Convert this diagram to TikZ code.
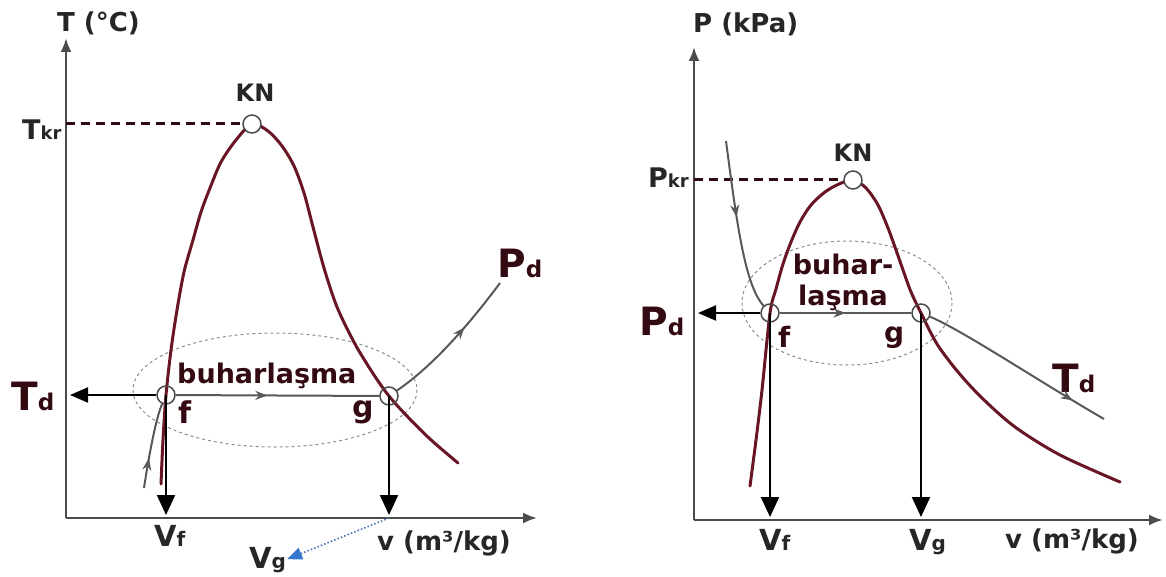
\documentclass[tikz,border=0pt]{standalone}
\usepackage{fontspec}
\setmainfont{DejaVu Sans}
\usetikzlibrary{arrows.meta,decorations.markings}

\newcommand{\fsz}[1]{\fontsize{#1}{#1}\selectfont}
\definecolor{domered}{RGB}{105,22,36}
\definecolor{inkred}{RGB}{52,10,18}
\definecolor{procgray}{RGB}{88,88,88}
\definecolor{axgray}{RGB}{75,75,75}
\definecolor{vgblue}{RGB}{55,118,205}

\begin{document}
\begin{tikzpicture}[
  x=1pt, y=-1pt,
  axis/.style={draw=axgray, line width=2.6pt, -{Latex[length=14pt,width=11pt]}},
  dome/.style={draw=domered, line width=3pt, line join=round, line cap=round},
  crit/.style={draw=black!55!domered, line width=3pt, dash pattern=on 9pt off 6pt},
  knpt/.style={circle, draw=axgray, fill=white, line width=1.5pt, minimum size=18pt, inner sep=0pt},
  ring/.style={circle, draw=axgray, line width=1.5pt, minimum size=18pt, inner sep=0pt},
  proc/.style={draw=procgray, line width=2pt},
  midarr/.style={postaction={decorate}, decoration={markings,
      mark=at position #1 with {\arrow{Stealth[length=12pt,width=9pt]}}}},
  drop/.style={draw=black, line width=2.2pt, shorten >=3pt, -{Triangle[length=20pt,width=18pt]}},
  side/.style={draw=black, line width=2pt, shorten >=4pt, -{Triangle[length=18pt,width=15pt]}},
  zone/.style={draw=black!45, dashed, line width=1pt},
  vgline/.style={draw=vgblue!70!gray, dotted, line width=1.6pt, shorten >=1pt,
      -{Triangle[length=15pt,width=12pt,fill=vgblue,color=vgblue]}},
  axlbl/.style={font=\bfseries\fsz{26}, text=black!85, inner sep=0pt, anchor=base west},
  critlbl/.style={font=\bfseries\fsz{27}, text=black!85, inner sep=0pt, anchor=base west},
  knlbl/.style={font=\bfseries\fsz{24}, text=black!85, inner sep=0pt},
  statelbl/.style={font=\bfseries\fsz{39}, text=inkred, inner sep=0pt, anchor=base west},
  vlbl/.style={font=\bfseries\fsz{29}, text=black!85, inner sep=0pt, anchor=base west},
  ptlbl/.style={font=\bfseries\fsz{#1}, text=inkred, inner sep=0pt, anchor=base west},
  phase/.style={font=\bfseries\fsz{27}, text=inkred, inner sep=0pt}
]
\useasboundingbox (0,0) rectangle (1166,577);

% T-v diagram
\coordinate (o1) at (66,518);
\coordinate (ytop1) at (66,38);
\coordinate (xend1) at (537,518);
\coordinate (F1) at (166,395);
\coordinate (G1) at (389,396);
\coordinate (K1) at (252,124);

\draw[zone] (275,390) ellipse [x radius=142, y radius=57];
\draw[dome] plot[smooth] coordinates {(161,484) (163,440) (F1) (171,350) (177,310)
  (184,272) (193,240) (201,212) (210,188) (221,162) (236,140) (K1) (268,131) (282,146)
  (294,166) (304,193) (313,227) (324,268) (337,307) (355,344) (374,375) (G1) (405,414)
  (430,439) (458,463)};
\draw[axis] (o1) -- (ytop1);
\draw[axis] (o1) -- (xend1);

\node[knpt] (kn1) at (K1) {};
\node[ring] (f1) at (F1) {};
\node[ring] (g1) at (G1) {};
\draw[crit] (kn1 -| o1) -- (kn1);

\node[axlbl] (tax) at (57,32) {T (°C)};
\node[axlbl] (vax1) at (377,550) {v (m³/kg)};
\node[critlbl] (tkr) at (22,140) {T{\fsz{18}kr}};
\node[knlbl] (kntxt1) at (255,93) {KN};
\node[statelbl] (td1) at (11,410) {T{\fsz{23}d}};
\node[statelbl] (pd1) at (497,277) {P{\fsz{23}d}};
\node[vlbl] (vf1) at (154,546) {V{\fsz{20}f}};
\node[vlbl] (vg1) at (249,568) {V{\fsz{20}g}};
\node[ptlbl=30] (flbl1) at (178,423) {f};
\node[ptlbl=30] (glbl1) at (352,417) {g};
\node[phase, anchor=base west] (buh1) at (177,383) {buharlaşma};

\coordinate (inc1) at (144,488);
\coordinate (pdend1) at (500,283);
\draw[proc, midarr=0.45] (f1) -- (g1);
\draw[proc, midarr=0.35] (inc1) .. controls (149,455) and (156,418) .. (f1);
\draw[proc, midarr=0.62] (g1) .. controls (430,368) and (465,330) .. (pdend1);
\draw[side] (f1) -- (f1 -| o1);
\draw[drop] (f1.center) -- (f1.center |- o1);
\draw[drop] (g1.center) -- (g1.center |- o1);
\draw[vgline] (g1.center |- o1) -- (vg1.east);

% P-v diagram
\coordinate (o2) at (694,520);
\coordinate (ytop2) at (694,47);
\coordinate (xend2) at (1163,520);
\coordinate (F2) at (770,313);
\coordinate (G2) at (921,313);
\coordinate (K2) at (853,180);

\draw[zone] (847,303) ellipse [x radius=105, y radius=62];
\draw[dome] plot[smooth] coordinates {(750,486) (756,440) (762,390) (F2) (776,289)
  (783,264) (791,242) (800,222) (811,205) (825,192) (839,184) (K2) (866,188) (878,205)
  (888,228) (896,250) (903,270) (911,292) (G2) (937,344) (958,372) (982,398) (1015,427)
  (1060,455) (1120,482)};
\draw[axis] (o2) -- (ytop2);
\draw[axis] (o2) -- (xend2);

\node[knpt] (kn2) at (K2) {};
\node[ring] (f2) at (F2) {};
\node[ring] (g2) at (G2) {};
\draw[crit] (kn2 -| o2) -- (kn2);

\node[axlbl] (pax) at (693,33) {P (kPa)};
\node[axlbl] (vax2) at (1005,548) {v (m³/kg)};
\node[critlbl] (pkr) at (648,188) {P{\fsz{18}kr}};
\node[knlbl] (kntxt2) at (853,153) {KN};
\node[statelbl] (pd2) at (639,335) {P{\fsz{23}d}};
\node[statelbl] (td2) at (1052,392) {T{\fsz{23}d}};
\node[vlbl] (vf2) at (759,550) {V{\fsz{20}f}};
\node[vlbl] (vg2) at (909,550) {V{\fsz{20}g}};
\node[ptlbl=28] (flbl2) at (778,347) {f};
\node[ptlbl=28] (glbl2) at (884,342) {g};
\node[phase, align=center, font=\bfseries\fontsize{27}{31}\selectfont] (buh2) at (843,282) {buhar-\\laşma};

\coordinate (inc2) at (726,141);
\coordinate (tdend2) at (1104,419);
\draw[proc, midarr=0.5] (f2) -- (g2);
\draw[proc, midarr=0.45] (inc2) .. controls (737,225) and (745,285) .. (f2);
\draw[proc, midarr=0.82] (g2) .. controls (962,330) and (1040,382) .. (tdend2);
\draw[side] (f2) -- (f2 -| o2);
\draw[drop] (f2.center) -- (f2.center |- o2);
\draw[drop] (g2.center) -- (g2.center |- o2);
\end{tikzpicture}
\end{document}
